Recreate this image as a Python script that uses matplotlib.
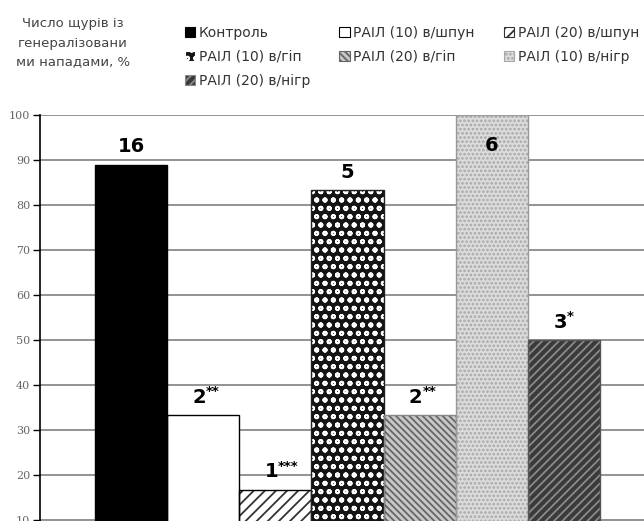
import matplotlib
matplotlib.use("Agg")
import matplotlib.pyplot as plt
from matplotlib.patches import Patch

plt.rcParams['font.family'] = ['DejaVu Sans']
plt.rcParams['hatch.linewidth'] = 1.3

# дані
categories = ['Контроль', 'РАІЛ (10) в/шпун', 'РАІЛ (20) в/шпун', 'РАІЛ (10) в/гіп',
              'РАІЛ (20) в/гіп', 'РАІЛ (10) в/нігр', 'РАІЛ (20) в/нігр']
values = [88.9, 33.3, 16.7, 83.3, 33.3, 100.0, 50.0]
counts = ['16', '2', '1', '5', '2', '6', '3']
stars = ['', '**', '***', '', '**', '', '*']
yticks = [10, 20, 30, 40, 50, 60, 70, 80, 90, 100]
ylabel = 'Число щурів із\nгенералізовани\nми нападами, %'

# стилі стовпчиків (заливка, штрихування, колір штриха, рамка)
faces = ['black', 'white', 'white', '#141414', '#c8c8c8', '#dcdcdc', '#3a3a3a']
hatches = [None, None, '///', 'oo', '\\\\\\\\\\', '....', '////']
hcolors = ['black', 'black', '#333333', 'white', '#666666', '#a8a8a8', '#8a8a8a']
edges = ['black', 'black', 'black', '#222222', '#888888', '#999999', '#555555']

fig = plt.figure(figsize=(6.44, 5.21), dpi=100)
ax = fig.add_axes([40 / 644, -44 / 521, 615 / 644, 450 / 521])

ax.set_ylim(0, 100)
ax.set_xlim(-1.262, 7.262)
ax.set_yticks(yticks)
ax.set_xticks([])
ax.yaxis.grid(True, color='#8a8a8a', linewidth=1.3, zorder=0)
ax.set_axisbelow(True)
for s in ['top', 'right', 'bottom']:
    ax.spines[s].set_visible(False)
ax.spines['left'].set_linewidth(1.2)
ax.tick_params(axis='y', direction='out', length=5, width=1, labelsize=8,
               labelcolor='#666666', pad=2)
for lab in ax.get_yticklabels():
    lab.set_family('DejaVu Serif')

handles = []
for i, v in enumerate(values):
    ax.bar(i, v, width=1.0, color=faces[i], hatch=hatches[i], edgecolor=hcolors[i],
           linewidth=0, zorder=2)
    ax.bar(i, v, width=1.0, fill=False, edgecolor=edges[i], linewidth=1, zorder=3)
    handles.append(Patch(facecolor=faces[i], hatch=hatches[i], edgecolor=hcolors[i],
                         linewidth=0.8, label=categories[i]))

# підписи над стовпчиками
for i, v in enumerate(values):
    y = min(v + 4.0, 93.3)
    if stars[i]:
        ax.text(i + 0.04, y, counts[i], ha='right', va='center', fontsize=14,
                fontweight='bold', zorder=4)
        ax.text(i + 0.04, y + 1.2, stars[i], ha='left', va='center', fontsize=9.5,
                fontweight='bold', zorder=4)
    else:
        ax.text(i, y, counts[i], ha='center', va='center', fontsize=14,
                fontweight='bold', zorder=4)

# легенда: порядок під розкладку по стовпцях
order = [0, 3, 6, 1, 4, 2, 5]
fig.legend([handles[k] for k in order], [categories[k] for k in order],
           ncol=3, loc='upper left', bbox_to_anchor=(185 / 644, 1 - 26 / 521),
           frameon=False, fontsize=10, handlelength=0.75, handleheight=0.75,
           handletextpad=0.25, columnspacing=2.1, labelspacing=0.72,
           borderpad=0, borderaxespad=0, labelcolor='#333333')

fig.text(73 / 644, 1 - 43 / 521, ylabel, ha='center', va='center', fontsize=9.5,
         color='#444444', linespacing=1.6)

fig.savefig('out.png', dpi=100)
